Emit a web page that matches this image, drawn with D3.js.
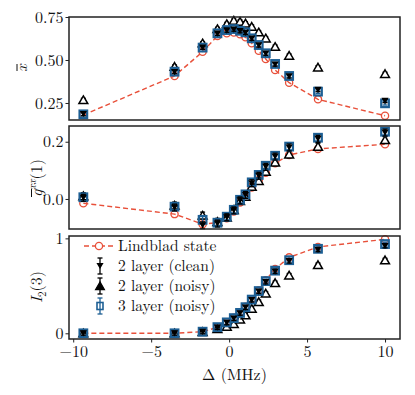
<!DOCTYPE html>
<meta charset="utf-8">
<html>
<head>
<script src="https://d3js.org/d3.v7.min.js"></script>
<style>
  body { margin: 0; background: #fff; }
</style>
</head>
<body>
<script>
// detuning values (MHz)
var delta = [-9.35, -3.5, -1.7, -0.75, -0.15, 0.3, 0.7, 1.05, 1.45, 1.9, 2.35, 2.95, 3.85, 5.7, 10];

// top panel: x bar
var xLind   = [0.18, 0.407, 0.548, 0.64, 0.655, 0.66, 0.65, 0.632, 0.597, 0.554, 0.506, 0.442, 0.368, 0.271, 0.176];
var xClean  = [0.186, 0.43, 0.572, 0.653, 0.671, 0.677, 0.668, 0.658, 0.624, 0.585, 0.537, 0.474, 0.405, 0.326, 0.262];
var xNoisy  = [0.267, 0.461, 0.597, 0.68, 0.709, 0.729, 0.723, 0.713, 0.694, 0.661, 0.626, 0.577, 0.525, 0.457, 0.419];
var x3Noisy = [0.184, 0.432, 0.572, 0.655, 0.674, 0.68, 0.67, 0.661, 0.626, 0.587, 0.539, 0.477, 0.407, 0.316, 0.248];

// middle panel: g^xx(1)
var gLind   = [-0.015, -0.053, -0.088, -0.083, -0.067, -0.044, -0.012, 0.008, 0.04, 0.066, 0.092, 0.125, 0.154, 0.175, 0.191];
var gClean  = [0.004, -0.03, -0.092, -0.086, -0.064, -0.04, -0.005, 0.014, 0.055, 0.081, 0.112, 0.148, 0.18, 0.21, 0.232];
var gNoisy  = [0.01, -0.023, -0.058, -0.08, -0.065, -0.038, -0.007, 0.008, 0.043, 0.063, 0.095, 0.128, 0.156, 0.183, 0.206];
var g3Noisy = [0.006, -0.027, -0.073, -0.083, -0.062, -0.038, -0.003, 0.016, 0.058, 0.084, 0.116, 0.151, 0.183, 0.214, 0.235];

// bottom panel: I_2(3)
var iLind   = [0, 0, 0.017, 0.063, 0.116, 0.164, 0.22, 0.28, 0.36, 0.45, 0.56, 0.677, 0.8, 0.91, 0.99];
var iClean  = [0, 0, 0.015, 0.06, 0.11, 0.155, 0.21, 0.27, 0.35, 0.44, 0.54, 0.65, 0.76, 0.88, 0.92];
var iNoisy  = [0, 0, 0.015, 0.045, 0.07, 0.098, 0.147, 0.19, 0.26, 0.33, 0.42, 0.53, 0.61, 0.72, 0.77];
var i3Noisy = [0, 0, 0.017, 0.065, 0.115, 0.16, 0.215, 0.275, 0.355, 0.445, 0.55, 0.66, 0.77, 0.89, 0.94];

var xTicks = [-10, -5, 0, 5, 10];
var legendLabels = ["Lindblad state", "2 layer (clean)", "2 layer (noisy)", "3 layer (noisy)"];

var red = "#e8503a", blue = "#1d5f94";
var serif = "'Latin Modern Roman', 'Liberation Serif', serif";

var width = 415, height = 395;
var left = 69, right = 400;

var svg = d3.select("body").append("svg")
    .attr("width", width)
    .attr("height", height);

var x = d3.scaleLinear().domain([-10.27, 10.96]).range([left, right]);

var panels = [
  { top: 17, bottom: 120, domain: [0.151, 0.75], ticks: [0.25, 0.5, 0.75], fmt: d3.format(".2f"),
    lind: xLind, clean: xClean, noisy: xNoisy, three: x3Noisy, err: 0.01 },
  { top: 126, bottom: 229, domain: [-0.105, 0.255], ticks: [0.0, 0.2], fmt: d3.format(".1f"),
    lind: gLind, clean: gClean, noisy: gNoisy, three: g3Noisy, err: 0.012 },
  { top: 236, bottom: 339, domain: [-0.06, 1.025], ticks: [0, 1], fmt: d3.format("d"),
    lind: iLind, clean: iClean, noisy: iNoisy, three: i3Noisy, err: 0.02 }
];

var triUp = d3.symbol().type(d3.symbolTriangle).size(34);
var triDown = d3.symbol().type(d3.symbolTriangle).size(22);

function errBar(g, cx, y0, y1, color) {
  g.append("line").attr("x1", cx).attr("x2", cx).attr("y1", y0).attr("y2", y1)
    .attr("stroke", color).attr("stroke-width", 1.3);
  [y0, y1].forEach(function(yy) {
    g.append("line").attr("x1", cx - 2.5).attr("x2", cx + 2.5).attr("y1", yy).attr("y2", yy)
      .attr("stroke", color).attr("stroke-width", 1.3);
  });
}

function styleText(sel, size) {
  sel.style("font-family", serif).style("font-size", (size || 16) + "px").attr("fill", "#111");
}

panels.forEach(function(p, pi) {
  var y = d3.scaleLinear().domain(p.domain).range([p.bottom, p.top]);
  var g = svg.append("g");

  // Lindblad dashed line + open circles
  g.append("path")
    .datum(delta.map(function(d, i) { return [d, p.lind[i]]; }))
    .attr("fill", "none")
    .attr("stroke", red)
    .attr("stroke-width", 1.4)
    .attr("stroke-dasharray", "5,3")
    .attr("d", d3.line().x(function(d) { return x(d[0]); }).y(function(d) { return y(d[1]); }));
  g.selectAll(".lind").data(p.lind).join("circle")
    .attr("cx", function(d, i) { return x(delta[i]); })
    .attr("cy", function(d) { return y(d); })
    .attr("r", 3.6)
    .attr("fill", "none")
    .attr("stroke", red)
    .attr("stroke-width", 1.3);

  // 2 layer noisy: open up triangles
  p.noisy.forEach(function(v, i) {
    var cx = x(delta[i]), cy = y(v);
    errBar(g, cx, y(v - p.err), y(v + p.err), "#000");
    g.append("path").attr("d", triUp())
      .attr("transform", "translate(" + cx + "," + (cy + 1) + ")")
      .attr("fill", "#fff").attr("stroke", "#000").attr("stroke-width", 1.5);
  });

  // 3 layer noisy: open blue squares
  p.three.forEach(function(v, i) {
    var cx = x(delta[i]), cy = y(v);
    errBar(g, cx, y(v - p.err), y(v + p.err), blue);
    g.append("rect")
      .attr("x", cx - 3.8).attr("y", cy - 3.8)
      .attr("width", 7.6).attr("height", 7.6)
      .attr("fill", "none").attr("stroke", blue).attr("stroke-width", 2.2);
  });

  // 2 layer clean: filled down triangles
  p.clean.forEach(function(v, i) {
    var cx = x(delta[i]), cy = y(v);
    errBar(g, cx, y(v - p.err), y(v + p.err), "#000");
    g.append("path").attr("d", triDown())
      .attr("transform", "translate(" + cx + "," + (cy - 1) + ") rotate(180)")
      .attr("fill", "#000");
  });

  // frame
  svg.append("rect")
    .attr("x", left).attr("y", p.top)
    .attr("width", right - left).attr("height", p.bottom - p.top)
    .attr("fill", "none").attr("stroke", "#222").attr("stroke-width", 1.5);

  // y axis
  var ya = svg.append("g")
    .attr("transform", "translate(" + left + ",0)")
    .call(d3.axisLeft(y).tickValues(p.ticks).tickSize(3.5).tickPadding(2)
      .tickFormat(function(d) { return p.fmt(d).replace("-", "\u2212"); }));
  ya.attr("font-family", null);
  ya.select(".domain").remove();
  ya.selectAll("line").attr("stroke", "#222").attr("stroke-width", 1);
  styleText(ya.selectAll("text"));

  if (pi === 2) {
    var xa = svg.append("g")
      .attr("transform", "translate(0," + p.bottom + ")")
      .call(d3.axisBottom(x).tickValues(xTicks).tickSize(3.5).tickPadding(3)
        .tickFormat(function(d) { return String(d).replace("-", "\u2212"); }));
    xa.attr("font-family", null);
    xa.select(".domain").remove();
    xa.selectAll("line").attr("stroke", "#222").attr("stroke-width", 1);
    styleText(xa.selectAll("text"));
  }
});

// y labels
var lab1 = svg.append("g").attr("transform", "translate(27,68) rotate(-90)");
styleText(lab1.append("text").attr("text-anchor", "middle").style("font-style", "italic").text("x"));
lab1.append("line").attr("x1", -3).attr("x2", 4).attr("y1", -10).attr("y2", -10)
  .attr("stroke", "#111").attr("stroke-width", 1);

var lab2 = svg.append("g").attr("transform", "translate(42,178) rotate(-90)");
var t2 = lab2.append("text").attr("text-anchor", "middle");
styleText(t2);
t2.append("tspan").style("font-style", "italic").text("g");
t2.append("tspan").attr("dy", -6).style("font-size", "11px").style("font-style", "italic").text("xx");
t2.append("tspan").attr("dy", 6).text("(1)");
var tw = t2.node().getComputedTextLength();
var gw = t2.node().getSubStringLength(0, 1);
lab2.append("line").attr("x1", -tw / 2).attr("x2", -tw / 2 + gw + 1).attr("y1", -10.5).attr("y2", -10.5)
  .attr("stroke", "#111").attr("stroke-width", 1);

var lab3 = svg.append("g").attr("transform", "translate(42,287) rotate(-90)");
var t3 = lab3.append("text").attr("text-anchor", "middle");
styleText(t3);
t3.append("tspan").style("font-style", "italic").text("I");
t3.append("tspan").attr("dy", 4).style("font-size", "11px").text("2");
t3.append("tspan").attr("dy", -4).text("(3)");

// x label
styleText(svg.append("text")
  .attr("x", (left + right) / 2).attr("y", 380)
  .attr("text-anchor", "middle")
  .text("\u0394 (MHz)"));

// legend
var leg = svg.append("g");
var rowY = [246, 266, 286, 306];
legendLabels.forEach(function(lbl, i) {
  var ry = rowY[i], mx = 100;
  if (i === 0) {
    leg.append("line").attr("x1", 84).attr("x2", 114).attr("y1", ry).attr("y2", ry)
      .attr("stroke", red).attr("stroke-width", 1.4).attr("stroke-dasharray", "5,3");
    leg.append("circle").attr("cx", mx - 1).attr("cy", ry).attr("r", 3.6)
      .attr("fill", "#fff").attr("stroke", red).attr("stroke-width", 1.3);
  } else if (i === 1) {
    errBar(leg, mx, ry - 8, ry + 8, "#000");
    leg.append("path").attr("d", triDown())
      .attr("transform", "translate(" + mx + "," + (ry - 1) + ") rotate(180)").attr("fill", "#000");
  } else if (i === 2) {
    errBar(leg, mx, ry - 8, ry + 8, "#000");
    leg.append("path").attr("d", triUp())
      .attr("transform", "translate(" + mx + "," + (ry + 1) + ")")
      .attr("fill", "#000").attr("stroke", "#000").attr("stroke-width", 1.2);
  } else {
    errBar(leg, mx, ry - 8, ry + 8, blue);
    leg.append("rect").attr("x", mx - 3).attr("y", ry - 3.5).attr("width", 6).attr("height", 7)
      .attr("fill", "none").attr("stroke", blue).attr("stroke-width", 1.6);
  }
  styleText(leg.append("text").attr("x", 118).attr("y", ry + 5).text(lbl), 15.5);
});
</script>
</body>
</html>
